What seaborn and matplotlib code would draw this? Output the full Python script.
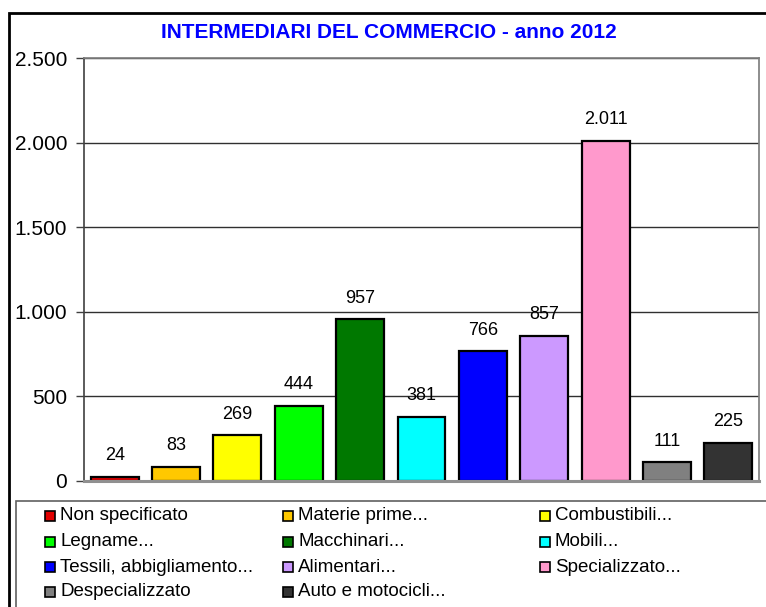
import matplotlib
matplotlib.use("Agg")
import matplotlib.pyplot as plt
from matplotlib.patches import Rectangle
from matplotlib.ticker import FuncFormatter
import seaborn as sns

# Dati
categorie = ["Non specificato", "Materie prime...", "Combustibili...",
             "Legname...", "Macchinari...", "Mobili...",
             "Tessili, abbigliamento...", "Alimentari...", "Specializzato...",
             "Despecializzato", "Auto e motocicli..."]
valori = [24, 83, 269, 444, 957, 381, 766, 857, 2011, 111, 225]
colori = ["#E00000", "#FFC800", "#FFFF00", "#00FF00", "#007800", "#00FFFF",
          "#0000FF", "#CC99FF", "#FF99CC", "#808080", "#333333"]
tick_y = [0, 500, 1000, 1500, 2000, 2500]

sns.set_theme(style="white")
plt.rcParams['font.family'] = ['Liberation Sans', 'DejaVu Sans']

W, H = 766, 607
fig = plt.figure(figsize=(W / 100, H / 100), dpi=100)

def fx(px):
    return px / W

def fy(py):
    return 1 - py / H

ax = fig.add_axes([fx(84), fy(481), fx(759) - fx(84), fy(58) - fy(481)])

sns.barplot(x=categorie, y=valori, hue=categorie, palette=colori, dodge=False,
            legend=False, width=0.78, edgecolor="black", linewidth=1.6,
            saturation=1, ax=ax)

def punto_migliaia(v, pos=None):
    return f"{int(v):,}".replace(",", ".")

ax.set_ylim(0, 2500)
ax.set_yticks(tick_y)
ax.yaxis.set_major_formatter(FuncFormatter(punto_migliaia))
ax.tick_params(axis="y", labelsize=15, length=6, width=1, color="#404040",
               direction="out", left=True, pad=6, labelcolor="black")
ax.set_xticks([])
ax.set_xlabel("")
ax.set_ylabel("")
ax.grid(axis="y", color="#303030", linewidth=1)
ax.set_axisbelow(True)

ax.spines["left"].set_color("#404040")
ax.spines["left"].set_linewidth(1.2)
ax.spines["bottom"].set_color("#909090")
ax.spines["bottom"].set_linewidth(2.2)
ax.spines["top"].set_color("#808080")
ax.spines["right"].set_color("#808080")

for p, v in zip(ax.patches, valori):
    ax.annotate(punto_migliaia(v), (p.get_x() + p.get_width() / 2, p.get_height()),
                xytext=(0, 9), textcoords="offset points", ha="center", va="bottom",
                fontsize=13, color="black")

fig.text(fx(389), fy(32), "INTERMEDIARI DEL COMMERCIO - anno 2012", ha="center",
         va="center", fontsize=15, fontweight="bold", color="#0000FF")

# cornice esterna
fig.add_artist(Rectangle((fx(9), fy(620)), fx(800), fy(13) - fy(620),
                         transform=fig.transFigure, fill=False,
                         edgecolor="black", linewidth=2))

# legenda (disegnata a mano per rispettare la griglia di Excel)
fig.add_artist(Rectangle((fx(16), fy(620)), fx(800), fy(501) - fy(620),
                         transform=fig.transFigure, fill=False,
                         edgecolor="#606060", linewidth=1.2))
col_x = [45, 283, 540]
row_y = [516, 542, 567, 592]
for i, (nome, c) in enumerate(zip(categorie, colori)):
    r, k = divmod(i, 3)
    x0, y0 = col_x[k], row_y[r]
    fig.add_artist(Rectangle((fx(x0), fy(y0 + 5)), fx(10), fy(y0 - 5) - fy(y0 + 5),
                             transform=fig.transFigure, facecolor=c,
                             edgecolor="black", linewidth=1.2))
    fig.text(fx(x0 + 15), fy(y0), nome, ha="left", va="center",
             fontsize=13.5, color="black")

fig.savefig("out.png", dpi=100)
